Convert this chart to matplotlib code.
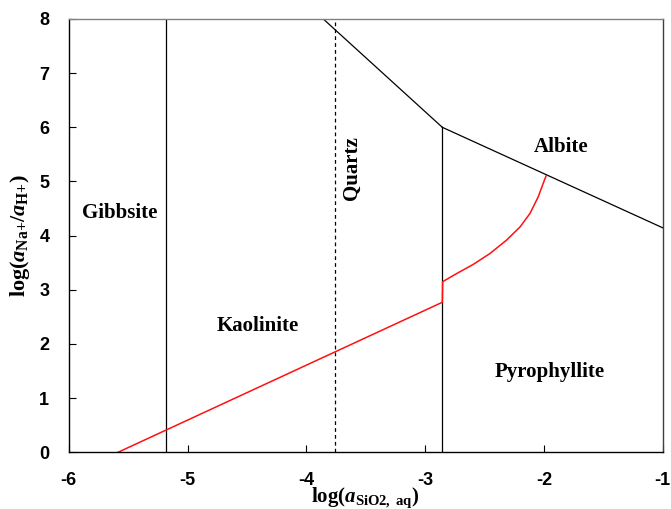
import numpy as np
import matplotlib
matplotlib.use("Agg")
import matplotlib.pyplot as plt

plt.rcParams['mathtext.fontset'] = 'custom'
plt.rcParams['mathtext.rm'] = 'Liberation Serif:bold'
plt.rcParams['mathtext.it'] = 'Liberation Serif:bold:italic'
plt.rcParams['mathtext.bf'] = 'Liberation Serif:bold'
plt.rcParams['axes.unicode_minus'] = False

# phase boundaries
gibbsite_kaol_x = -5.18
quartz_x = -3.755
kaol_pyro_x = -2.855
albite_upper_x = [-3.857, -2.855]
albite_upper_y = [8.0, 6.0]
albite_right_x = [-2.855, -1.0]
albite_right_y = [6.0, 4.145]

# red path
red_x = [-5.585, -2.855, -2.852, -2.734, -2.594, -2.454, -2.313, -2.201,
         -2.117, -2.047, -2.005, -1.982]
red_y = [0.0, 2.77, 3.15, 3.30, 3.47, 3.67, 3.92, 4.16, 4.41, 4.72, 4.97, 5.10]

# region labels
labels = ['Gibbsite', 'Kaolinite', 'Quartz', 'Albite', 'Pyrophyllite']
label_x = [-5.57, -4.41, -3.62, -1.856, -1.95]
label_y = [4.42, 2.33, 5.24, 5.64, 1.48]
label_rot = [0, 0, 90, 0, 0]

fig = plt.figure(figsize=(6.71, 5.09), dpi=100)
ax = fig.add_axes([0.1024, 0.1114, 0.8852, 0.8513])

lw = 0.9
ax.plot([gibbsite_kaol_x, gibbsite_kaol_x], [0, 8], color='black', lw=lw)
ax.plot([quartz_x, quartz_x], [0, 8], color='black', lw=lw, dashes=(3, 2.5))
ax.plot([kaol_pyro_x, kaol_pyro_x], [0, 6], color='black', lw=lw)
ax.plot(albite_upper_x, albite_upper_y, color='black', lw=lw)
ax.plot(albite_right_x, albite_right_y, color='black', lw=lw)
ax.plot(red_x, red_y, color='#FF1010', lw=1.1)

for t, x, y, r in zip(labels, label_x, label_y, label_rot):
    ax.text(x, y, t, ha='center', va='center', rotation=r,
            family='Liberation Serif', weight='bold', fontsize=15)

ax.set_xlim(-6, -1)
ax.set_ylim(0, 8)
ax.set_xticks(np.arange(-6, 0, 1))
ax.set_yticks(np.arange(0, 9, 1))
ax.tick_params(direction='in', length=5, width=0.8)
ax.tick_params(axis='x', pad=14)
ax.tick_params(axis='y', pad=14)
for lab in ax.get_xticklabels() + ax.get_yticklabels():
    lab.set_family('Liberation Sans')
    lab.set_weight('bold')
    lab.set_fontsize(13)

ax.spines['top'].set_color('#808080')
ax.spines['right'].set_color('#404040')
for s in ax.spines.values():
    s.set_linewidth(1.0)

ax.set_xlabel(r'$\mathrm{log(}a_{\mathrm{SiO2,\ aq}}\mathrm{)}$', fontsize=15, labelpad=-2)
ax.set_ylabel(r'$\mathrm{log(}a_{\mathrm{Na{+}}}\mathrm{/}a_{\mathrm{H{+}}}\mathrm{)}$', fontsize=16, labelpad=5)

fig.savefig('out.png', dpi=100)
